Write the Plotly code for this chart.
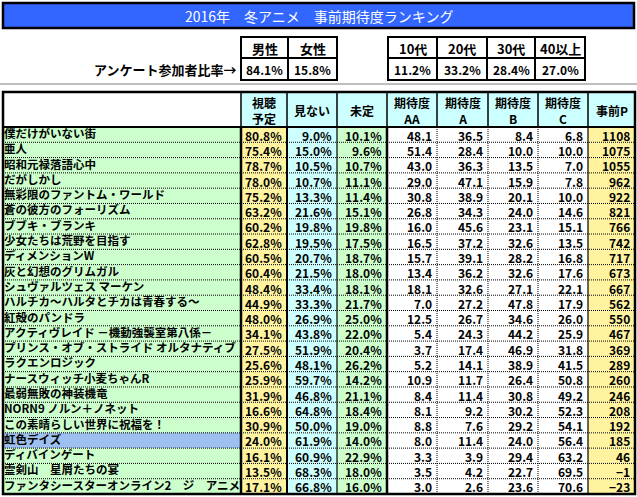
import plotly.graph_objects as go

# ---------------- data ----------------
title_text = "2016年　冬アニメ　事前期待度ランキング"
survey_label = "アンケート参加者比率→"
gender_labels = ["男性", "女性"]
gender_share = [84.1, 15.8]
age_labels = ["10代", "20代", "30代", "40以上"]
age_share = [11.2, 33.2, 28.4, 27.0]

col_headers = ["", "視聴<br>予定", "見ない", "未定", "期待度<br>AA", "期待度<br>A",
               "期待度<br>B", "期待度<br>C", "事前P"]

anime_titles = [
    "僕だけがいない街", "亜人", "昭和元禄落語心中", "だがしかし",
    "無彩限のファントム・ワールド", "蒼の彼方のフォーリズム", "ブブキ・ブランキ",
    "少女たちは荒野を目指す", "ディメンションW", "灰と幻想のグリムガル",
    "シュヴァルツェス マーケン", "ハルチカ～ハルタとチカは青春する～", "紅殻のパンドラ",
    "アクティヴレイド －機動強襲室第八係－", "プリンス・オブ・ストライド オルタナティブ",
    "ラクエンロジック", "ナースウィッチ小麦ちゃんR", "最弱無敗の神装機竜",
    "NORN9 ノルン＋ノネット", "この素晴らしい世界に祝福を！", "虹色デイズ",
    "ディバインゲート", "霊剣山　星屑たちの宴", "ファンタシースターオンライン2　ジ　アニメーション",
]
watch = [80.8, 75.4, 78.7, 78.0, 75.2, 63.2, 60.2, 62.8, 60.5, 60.4, 48.4, 44.9,
         48.0, 34.1, 27.5, 25.6, 25.9, 31.9, 16.6, 30.9, 24.0, 16.1, 13.5, 17.1]
no_watch = [9.0, 15.0, 10.5, 10.7, 13.3, 21.6, 19.8, 19.5, 20.7, 21.5, 33.4, 33.3,
            26.9, 43.8, 51.9, 48.1, 59.7, 46.8, 64.8, 50.0, 61.9, 60.9, 68.3, 66.8]
undecided = [10.1, 9.6, 10.7, 11.1, 11.4, 15.1, 19.8, 17.5, 18.7, 18.0, 18.1, 21.7,
             25.0, 22.0, 20.4, 26.2, 14.2, 21.1, 18.4, 19.0, 14.0, 22.9, 18.0, 16.0]
exp_aa = [48.1, 51.4, 43.0, 29.0, 30.8, 26.8, 16.0, 16.5, 15.7, 13.4, 18.1, 7.0,
          12.5, 5.4, 3.7, 5.2, 10.9, 8.4, 8.1, 8.8, 8.0, 3.3, 3.5, 3.0]
exp_a = [36.5, 28.4, 36.3, 47.1, 38.9, 34.3, 45.6, 37.2, 39.1, 36.2, 32.6, 27.2,
         26.7, 24.3, 17.4, 14.1, 11.7, 11.4, 9.2, 7.6, 11.4, 3.9, 4.2, 2.6]
exp_b = [8.4, 10.0, 13.5, 15.9, 20.1, 24.0, 23.1, 32.6, 28.2, 32.6, 27.1, 47.8,
         34.6, 44.2, 46.9, 38.9, 26.4, 30.8, 30.2, 29.2, 24.0, 29.4, 22.7, 23.6]
exp_c = [6.8, 10.0, 7.0, 7.8, 10.0, 14.6, 15.1, 13.5, 16.8, 17.6, 22.1, 17.9,
         26.0, 25.9, 31.8, 41.5, 50.8, 49.2, 52.3, 54.1, 56.4, 63.2, 69.5, 70.6]
points = [1108, 1075, 1055, 962, 922, 821, 766, 742, 717, 673, 667, 562,
          550, 467, 369, 289, 260, 246, 208, 192, 185, 46, -1, -23]
highlight_title = "虹色デイズ"

# ---------------- layout / styles ----------------
W, H = 637, 497
FONT = "Noto Sans CJK JP"
col_edges = [3, 241, 287, 337, 387, 437, 488, 538, 588, 635]
header_top, header_bot, table_bot = 92, 127, 494
n = len(anime_titles)
row_h = (table_bot - header_bot) / n

YELLOW = "#FFF3A0"
CYAN = "#CCFFFF"
GREEN = "#CCFFCC"
BLUE_HL = "#9DC0F0"
TITLE_BLUE = "#3366FF"

col_fills = [GREEN, YELLOW, CYAN, GREEN, "white", "white", "white", "white", YELLOW]

shapes = []
annotations = []


def rect(x0, y0, x1, y1, fill=None, lw=0, lc="black", layer="below"):
    d = dict(type="rect", xref="x", yref="y", x0=x0, y0=y0, x1=x1, y1=y1,
             layer=layer, line=dict(width=lw, color=lc))
    if fill:
        d["fillcolor"] = fill
    shapes.append(d)


def line(x0, y0, x1, y1, w=1, color="black", dash="solid", layer="above"):
    shapes.append(dict(type="line", xref="x", yref="y", x0=x0, y0=y0, x1=x1, y1=y1,
                       layer=layer, line=dict(width=w, color=color, dash=dash)))


def text(x, y, s, size=12, anchor="center", color="black", bold=True):
    annotations.append(dict(x=x, y=y, xref="x", yref="y", text=s, showarrow=False,
                            xanchor=anchor, yanchor="middle",
                            font=dict(family=FONT, size=size, color=color,
                                      weight="bold" if bold else "normal")))


# title bar
rect(3, 3, 634, 28, fill=TITLE_BLUE, lw=2.5, lc="black")
text(318.5, 16, title_text, size=14, color="white", bold=False)

# survey mini tables
mt_top, mt_mid, mt_bot = 37, 58, 80
g_edges = [241, 288, 337]
a_edges = [388, 437, 487, 535, 585]
for edges, labels, vals in [(g_edges, gender_labels, gender_share),
                            (a_edges, age_labels, age_share)]:
    for i, (lab, v) in enumerate(zip(labels, vals)):
        x0, x1 = edges[i], edges[i + 1]
        rect(x0, mt_top, x1, mt_mid, fill="white", lw=2, layer="above")
        rect(x0, mt_mid, x1, mt_bot, fill="white", lw=2, layer="above")
        text((x0 + x1) / 2, (mt_top + mt_mid) / 2 + 0.5, lab, size=13)
        text((x0 + x1) / 2, (mt_mid + mt_bot) / 2 + 0.5, f"{v:.1f}%", size=12)
text(238, (mt_mid + mt_bot) / 2 + 0.5, survey_label, size=13, anchor="right")

# gray separator
line(0, 84, W, 84, w=1.5, color="#A8A8A8", layer="below")

# header row
for j in range(len(col_headers)):
    x0, x1 = col_edges[j], col_edges[j + 1]
    rect(x0, header_top, x1, header_bot, fill="white" if j == 0 else CYAN)
    if col_headers[j]:
        text((x0 + x1) / 2, (header_top + header_bot) / 2 + 0.5, col_headers[j], size=12)

# data cell fills
for i in range(n):
    y0 = header_bot + i * row_h
    y1 = y0 + row_h
    for j in range(len(col_headers)):
        x0, x1 = col_edges[j], col_edges[j + 1]
        fill = col_fills[j]
        if j == 0 and anime_titles[i] == highlight_title:
            fill = BLUE_HL
        # value columns are drawn above the title text so long titles are cut off
        rect(x0, y0, x1, y1, fill=fill, layer="below" if j == 0 else "above")

# values (right aligned)
columns = [watch, no_watch, undecided, exp_aa, exp_a, exp_b, exp_c, points]
for j, vals in enumerate(columns, start=1):
    xr = col_edges[j + 1] - 3
    for i, v in enumerate(vals):
        yc = header_bot + (i + 0.5) * row_h + 0.5
        if j <= 3:
            s = f"{v:.1f}%"
        elif j <= 7:
            s = f"{v:.1f}"
        else:
            s = f"{v}".replace("-", "−")
        text(xr, yc, s, size=12, anchor="right")

# row separators (dotted)
for i in range(1, n):
    y = header_bot + i * row_h
    line(col_edges[0], y, col_edges[-1], y, w=1, dash="1px,1px")

# vertical lines
for x in col_edges[1:-1]:
    line(x, header_top, x, header_bot, w=1.5)
v_styles = {241: (2.5, "solid"), 287: (2, "solid"), 337: (1.2, "solid"),
            387: (2.5, "solid"), 437: (1, "1px,1px"), 488: (1, "1px,1px"),
            538: (1, "1px,1px"), 588: (1.2, "solid")}
for x, (w, d) in v_styles.items():
    line(x, header_bot, x, table_bot, w=w, dash=d)
line(col_edges[0], header_bot, col_edges[-1], header_bot, w=2)
rect(col_edges[0], header_top, col_edges[-1], table_bot, lw=2.5, layer="above")

# titles as a text trace
name_y = [header_bot + (i + 0.5) * row_h + 0.5 for i in range(n)]
fig = go.Figure(go.Scatter(
    x=[4] * n, y=name_y, mode="text", text=anime_titles,
    textposition="middle right",
    textfont=dict(family=FONT, size=11.5, color="black", weight="bold"),
    hoverinfo="skip", cliponaxis=False,
))

fig.update_layout(
    width=W, height=H, margin=dict(l=0, r=0, t=0, b=0),
    paper_bgcolor="white", plot_bgcolor="white", showlegend=False,
    xaxis=dict(range=[0, W], visible=False, fixedrange=True),
    yaxis=dict(range=[H, 0], visible=False, fixedrange=True),
    shapes=shapes, annotations=annotations,
)
fig.write_html("out.html", config={"displayModeBar": False},
               post_script="document.body.style.margin='0';document.body.style.overflow='hidden';")
